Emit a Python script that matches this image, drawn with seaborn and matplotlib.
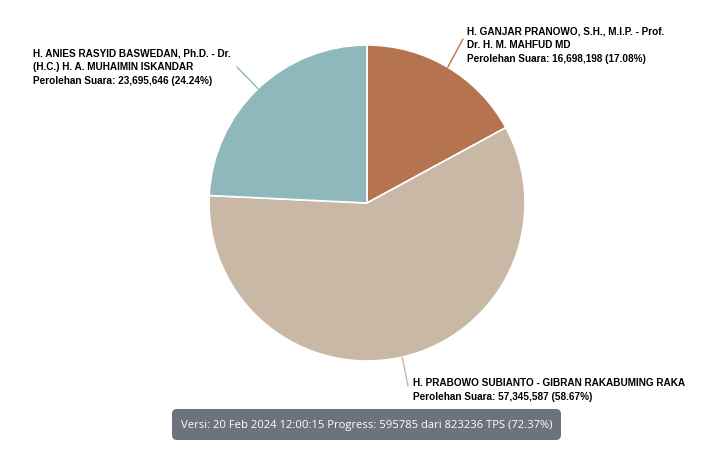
import matplotlib
matplotlib.use("Agg")
import matplotlib.pyplot as plt
import seaborn as sns
from matplotlib.patches import FancyBboxPatch
import numpy as np

candidates = [
    "H. GANJAR PRANOWO, S.H., M.I.P. - Prof.\nDr. H. M. MAHFUD MD",
    "H. PRABOWO SUBIANTO - GIBRAN RAKABUMING RAKA",
    "H. ANIES RASYID BASWEDAN, Ph.D. - Dr.\n(H.C.) H. A. MUHAIMIN ISKANDAR",
]
votes = [16698198, 57345587, 23695646]
percents = [17.08, 58.67, 24.24]
colors = ["#B5734F", "#C9B8A5", "#8EB8BC"]
footer = "Versi: 20 Feb 2024 12:00:15 Progress: 595785 dari 823236 TPS (72.37%)"

sns.set_theme(style="white")
plt.rcParams['font.family'] = ['Liberation Sans', 'DejaVu Sans']

W, H = 727, 452
fig = plt.figure(figsize=(W / 100, H / 100), dpi=100)
ax = fig.add_axes([0, 0, 1, 1])

cx, cy, r = 367, H - 204, 158
wedges, _ = ax.pie(votes, colors=colors, startangle=90, counterclock=False,
                   center=(cx, cy), radius=r,
                   wedgeprops=dict(edgecolor="white", linewidth=1.2))
ax.set_xlim(0, W)
ax.set_ylim(0, H)
ax.set_aspect("auto")
ax.axis("off")

# label positions (pixel, top-left origin): line end, text anchor
label_cfg = [
    dict(line_out=(463, 40), text=(467, 26), ha="left"),
    dict(line_out=(408, 387), text=(413, 378), ha="left"),
    dict(line_out=(237, 68), text=(33, 48), ha="left"),
]
line_colors = ["#B5734F", "#C9B8A5", "#8EB8BC"]
for w, cand, v, p, cfg, lc in zip(wedges, candidates, votes, percents, label_cfg, line_colors):
    ang = np.deg2rad((w.theta1 + w.theta2) / 2)
    ex, ey = cx + r * np.cos(ang), cy + r * np.sin(ang)
    ox, oy = cfg["line_out"]
    ax.plot([ex, ox], [ey, H - oy], color=lc, lw=1.0)
    txt = f"{cand}\nPerolehan Suara: {v:,} ({p:.2f}%)"
    tx, ty = cfg["text"]
    ax.text(tx, H - ty, txt, ha=cfg["ha"], va="top", fontsize=7.2,
            fontweight="bold", color="#000000", linespacing=1.48)

# footer box
bx0, by0, bx1, by1 = 172, 410, 561, 441
box = FancyBboxPatch((bx0, H - by1), bx1 - bx0, by1 - by0,
                     boxstyle="round,pad=0,rounding_size=5",
                     facecolor="#6C737D", edgecolor="none")
ax.add_patch(box)
ax.text((bx0 + bx1) / 2, H - (by0 + by1) / 2, footer, ha="center", va="center",
        color="white", fontsize=8.15, family=["Open Sans", "DejaVu Sans"])

fig.savefig("out.png", dpi=100)
